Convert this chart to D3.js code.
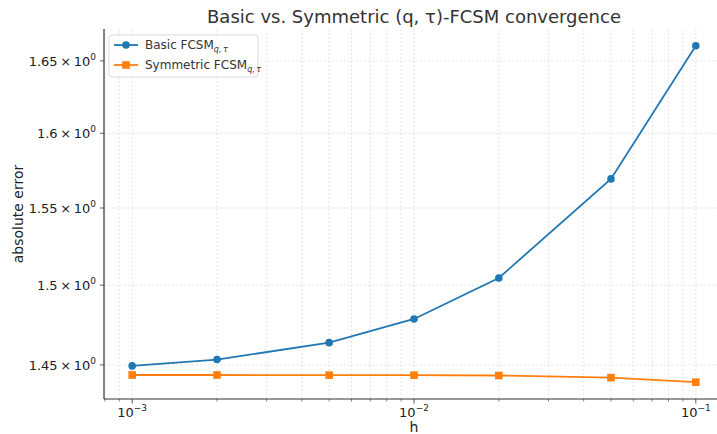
<!DOCTYPE html>
<html>
<head>
<meta charset="utf-8">
<script src="https://cdn.jsdelivr.net/npm/d3@7"></script>
<style>
  body { margin: 0; background: #fff; overflow: hidden; }
  svg { font-family: 'DejaVu Sans', sans-serif; }
</style>
</head>
<body>
<div id="chart"></div>
<script>
const hValues = [0.001, 0.002, 0.005, 0.01, 0.02, 0.05, 0.1]
const basicErr = [1.4494, 1.4533, 1.4638, 1.4786, 1.5046, 1.5693, 1.6606]
const symErr = [1.4438, 1.4438, 1.4437, 1.4437, 1.4435, 1.4422, 1.4394]
const yTicks = [1.45, 1.5, 1.55, 1.6, 1.65]
const xTicks = [0.001, 0.01, 0.1]
const xTickExp = ['−3', '−2', '−1']

const series = [
  { name: 'Basic', values: basicErr, color: '#1f77b4', marker: 'circle' },
  { name: 'Symmetric', values: symErr, color: '#ff7f0e', marker: 'square' },
]

const W = 717
const H = 434
// the right side of the axes is cut off by the figure edge
const margin = { top: 29, right: -7, bottom: 35, left: 104 }

const svg = d3
  .select('#chart')
  .append('svg')
  .attr('width', W)
  .attr('height', H)

// matplotlib-like 5% margins in log space
const pad = (lo, hi) => {
  const a = Math.log10(lo)
  const b = Math.log10(hi)
  const m = (b - a) * 0.05
  return [Math.pow(10, a - m), Math.pow(10, b + m)]
}

const allY = basicErr.concat(symErr)
const x = d3
  .scaleLog()
  .domain(pad(d3.min(hValues), d3.max(hValues)))
  .range([margin.left, W - margin.right])
const y = d3
  .scaleLog()
  .domain(pad(d3.min(allY), d3.max(allY)))
  .range([H - margin.bottom, margin.top])

// minor x ticks
const xMinor = []
for (let k = -4; k <= 0; k++) {
  for (let m = 2; m <= 9; m++) {
    const v = m * Math.pow(10, k)
    if (v >= x.domain()[0] && v <= x.domain()[1]) xMinor.push(v)
  }
}

// grid
const grid = svg.append('g')
grid
  .selectAll('line.xg')
  .data(xTicks.concat(xMinor))
  .join('line')
  .attr('x1', d => x(d))
  .attr('x2', d => x(d))
  .attr('y1', margin.top)
  .attr('y2', H - margin.bottom)
  .attr('stroke', '#dedede')
  .attr('stroke-width', 0.8)
  .style('stroke-dasharray', '2,2')
grid
  .selectAll('line.yg')
  .data(yTicks)
  .join('line')
  .attr('x1', margin.left)
  .attr('x2', W - margin.right)
  .attr('y1', d => y(d))
  .attr('y2', d => y(d))
  .attr('stroke', '#dedede')
  .attr('stroke-width', 0.8)
  .style('stroke-dasharray', '2,2')

// lines + markers
const line = d3
  .line()
  .x((d, i) => x(hValues[i]))
  .y(d => y(d))

series.forEach(s => {
  svg
    .append('path')
    .datum(s.values)
    .attr('fill', 'none')
    .attr('stroke', s.color)
    .attr('stroke-width', 1.8)
    .attr('d', line)
  if (s.marker === 'circle') {
    svg
      .append('g')
      .selectAll('circle')
      .data(s.values)
      .join('circle')
      .attr('cx', (d, i) => x(hValues[i]))
      .attr('cy', d => y(d))
      .attr('r', 3.8)
      .attr('fill', s.color)
  } else {
    svg
      .append('g')
      .selectAll('rect')
      .data(s.values)
      .join('rect')
      .attr('x', (d, i) => x(hValues[i]) - 3.8)
      .attr('y', d => y(d) - 3.8)
      .attr('width', 7.6)
      .attr('height', 7.6)
      .attr('fill', s.color)
  }
})

// axes
const axisColor = '#333'
const xAxis = svg
  .append('g')
  .attr('transform', `translate(0,${H - margin.bottom})`)
xAxis
  .append('line')
  .attr('x1', margin.left)
  .attr('x2', W - margin.right)
  .attr('stroke', axisColor)
  .attr('stroke-width', 1.2)
xAxis
  .selectAll('line.minor')
  .data(xMinor)
  .join('line')
  .attr('x1', d => x(d))
  .attr('x2', d => x(d))
  .attr('y1', 0)
  .attr('y2', 2.5)
  .attr('stroke', axisColor)
  .attr('stroke-width', 0.6)
xAxis
  .selectAll('line.major')
  .data(xTicks)
  .join('line')
  .attr('x1', d => x(d))
  .attr('x2', d => x(d))
  .attr('y1', 0)
  .attr('y2', 4.5)
  .attr('stroke', axisColor)
  .attr('stroke-width', 0.8)
const xl = xAxis
  .selectAll('text')
  .data(xTicks)
  .join('text')
  .attr('x', d => x(d))
  .attr('y', 18)
  .attr('text-anchor', 'middle')
  .attr('font-size', 13)
  .attr('fill', '#222')
xl.append('tspan').text('10')
xl
  .append('tspan')
  .attr('dy', -6)
  .attr('font-size', 9)
  .text((d, i) => xTickExp[i])

const yAxis = svg.append('g').attr('transform', `translate(${margin.left},0)`)
yAxis
  .append('line')
  .attr('y1', margin.top)
  .attr('y2', H - margin.bottom)
  .attr('stroke', axisColor)
  .attr('stroke-width', 1.2)
yAxis
  .selectAll('line.tick')
  .data(yTicks)
  .join('line')
  .attr('x1', -4)
  .attr('x2', 0)
  .attr('y1', d => y(d))
  .attr('y2', d => y(d))
  .attr('stroke', axisColor)
  .attr('stroke-width', 0.8)
const yl = yAxis
  .selectAll('text')
  .data(yTicks)
  .join('text')
  .attr('x', -8)
  .attr('y', d => y(d) + 5)
  .attr('text-anchor', 'end')
  .attr('font-size', 13)
  .attr('fill', '#222')
yl.append('tspan').text(d => `${d}\u2009×\u200910`)
yl
  .append('tspan')
  .attr('dy', -6)
  .attr('font-size', 9)
  .text('0')

// labels
svg
  .append('text')
  .attr('x', (margin.left + W - margin.right) / 2)
  .attr('y', 432)
  .attr('text-anchor', 'middle')
  .attr('font-size', 14)
  .attr('fill', '#222')
  .text('h')
svg
  .append('text')
  .attr('transform', `translate(23,${(margin.top + H - margin.bottom) / 2}) rotate(-90)`)
  .attr('text-anchor', 'middle')
  .attr('font-size', 14)
  .attr('fill', '#222')
  .text('absolute error')
svg
  .append('text')
  .attr('x', (margin.left + W - margin.right) / 2)
  .attr('y', 23)
  .attr('text-anchor', 'middle')
  .attr('font-size', 18)
  .attr('fill', '#333')
  .text('Basic vs. Symmetric (q, τ)-FCSM convergence')

// legend
const legend = svg.append('g').attr('transform', 'translate(109,35)')
legend
  .append('rect')
  .attr('width', 149)
  .attr('height', 42)
  .attr('rx', 3)
  .attr('fill', 'rgba(255,255,255,0.85)')
  .attr('stroke', '#d0d0d0')
  .attr('stroke-width', 0.8)
series.forEach((s, i) => {
  const g = legend.append('g').attr('transform', `translate(0,${10 + i * 20})`)
  g.append('line')
    .attr('x1', 5)
    .attr('x2', 29)
    .attr('stroke', s.color)
    .attr('stroke-width', 1.8)
  if (s.marker === 'circle') {
    g.append('circle').attr('cx', 17).attr('r', 3.8).attr('fill', s.color)
  } else {
    g.append('rect')
      .attr('x', 13.2)
      .attr('y', -3.8)
      .attr('width', 7.6)
      .attr('height', 7.6)
      .attr('fill', s.color)
  }
  const t = g
    .append('text')
    .attr('x', 36)
    .attr('y', 4)
    .attr('font-size', 12)
    .attr('fill', '#333')
  t.append('tspan').text(`${s.name} FCSM`)
  t.append('tspan')
    .attr('dy', 3)
    .attr('font-size', 8)
    .attr('font-style', 'italic')
    .text('q,\u2009τ')
})
</script>
</body>
</html>
